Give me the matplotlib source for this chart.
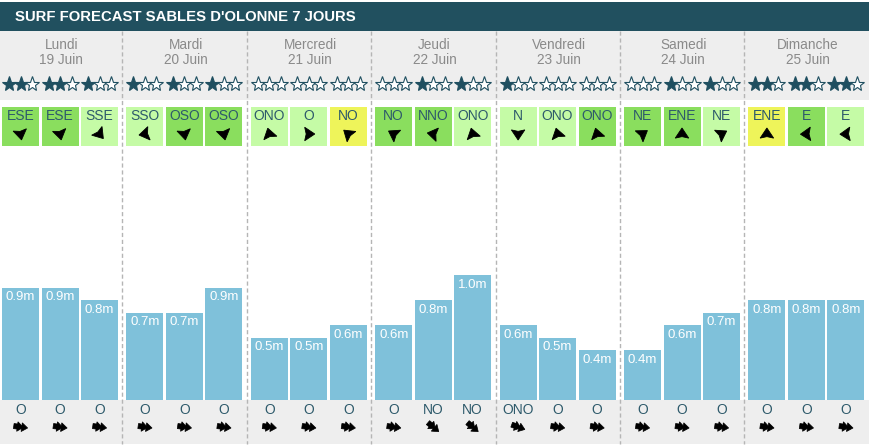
import numpy as np
import matplotlib
matplotlib.use("Agg")
import matplotlib.pyplot as plt
from matplotlib.patches import Rectangle, Polygon

plt.rcParams['font.family'] = ['Liberation Sans', 'DejaVu Sans']

# data
days = ["Lundi", "Mardi", "Mercredi", "Jeudi", "Vendredi", "Samedi", "Dimanche"]
dates = ["19 Juin", "20 Juin", "21 Juin", "22 Juin", "23 Juin", "24 Juin", "25 Juin"]
stars = [2, 2, 1, 1, 1, 1, 0, 0, 0, 0, 1, 1, 1, 0, 0, 0, 1, 1, 2, 2, 2]
wind_dir = ["ESE", "ESE", "SSE", "SSO", "OSO", "OSO", "ONO", "O", "NO",
            "NO", "NNO", "ONO", "N", "ONO", "ONO", "NE", "ENE", "NE", "ENE", "E", "E"]
wind_angle = [-80, -78, -50, 190, -80, -78, 105, 0, 140,
              150, 170, 105, -90, 105, 105, 35, 90, 30, 90, 182, 182]
wind_level = ["d", "d", "l", "l", "d", "d", "l", "l", "y",
              "d", "d", "l", "l", "l", "d", "d", "d", "l", "y", "d", "l"]
wave_h = [0.9, 0.9, 0.8, 0.7, 0.7, 0.9, 0.5, 0.5, 0.6, 0.6, 0.8, 1.0,
          0.6, 0.5, 0.4, 0.4, 0.6, 0.7, 0.8, 0.8, 0.8]
swell_dir = ["O", "O", "O", "O", "O", "O", "O", "O", "O", "O", "NO", "NO",
             "ONO", "O", "O", "O", "O", "O", "O", "O", "O"]
swell_angle = [-8, -8, -8, -8, -8, -8, -8, -8, -8, -8, -40, -40,
               -20, -8, -8, -8, -8, -8, -8, -8, -8]

W, H = 869, 446
box_col = {"d": "#8ade5e", "l": "#c5fba6", "y": "#eef45a"}
navy = "#1f4f60"
txt_col = "#2e5a6b"

fig = plt.figure(figsize=(W / 100, H / 100), dpi=100)
ax = fig.add_axes([0, 0, 1, 1])
ax.set_xlim(0, W)
ax.set_ylim(H, 0)
ax.axis("off")

col_w = 124.4
x0 = -2
slot_w = 39.5
bar_w = 37


def slot_left(i):
    return x0 + col_w * (i // 3) + 4 + slot_w * (i % 3)


def rot(pts, ang, cx, cy):
    a = np.deg2rad(ang)
    rx = pts[:, 0] * np.cos(a) - pts[:, 1] * np.sin(a)
    ry = pts[:, 0] * np.sin(a) + pts[:, 1] * np.cos(a)
    return np.c_[cx + rx, cy - ry]


def arrow(cx, cy, ang, s):
    pts = np.array([[0.8, 0], [-0.55, 0.9], [-0.35, 0], [-0.55, -0.9]]) * s
    ax.add_patch(Polygon(rot(pts, ang, cx, cy), closed=True, fc="black", ec="black",
                         lw=0.6, zorder=5))


def dbl_arrow(cx, cy, ang, s):
    # two stacked heads plus a short tail
    shapes = [
        np.array([[-0.85, 0.32], [-0.2, 0.32], [-0.2, -0.32], [-0.85, -0.32]]),
        np.array([[0.35, 0], [-0.4, 0.6], [-0.4, -0.6]]),
        np.array([[0.9, 0], [0.15, 0.55], [0.15, -0.55]]),
    ]
    for p in shapes:
        ax.add_patch(Polygon(rot(p * s, ang, cx, cy), closed=True, fc="black", ec="black",
                             lw=0.5, zorder=5))


# backgrounds
ax.add_patch(Rectangle((0, 2), W, 29, fc="#21505f", ec="none"))
ax.text(15, 17, "SURF FORECAST SABLES D'OLONNE 7 JOURS", color="white",
        fontsize=10.7, fontweight="bold", va="center", ha="left")
ax.add_patch(Rectangle((0, 31), W, 69, fc="#eeeeee", ec="none"))
ax.add_patch(Rectangle((0, 400), W, 44, fc="#eeeeee", ec="none"))

for k in range(1, 7):
    xs = x0 + col_w * k
    ax.plot([xs, xs], [31, 444], color="#b5b5b5", lw=1, ls=(0, (3, 2)), zorder=1)

for k, (d, dt) in enumerate(zip(days, dates)):
    cx = x0 + col_w * k + col_w / 2 + 1
    ax.text(cx, 45, d, color="#8a8a8a", fontsize=9.8, ha="center", va="center")
    ax.text(cx, 60, dt, color="#8a8a8a", fontsize=9.8, ha="center", va="center")

for i in range(21):
    lx = slot_left(i)
    cx = lx + bar_w / 2
    for j in range(3):
        sx = cx + (j - 1) * 11.5
        filled = j < stars[i]
        ax.plot(sx, 84, marker="*", ms=11, mfc=navy if filled else "white",
                mec=navy, mew=0.8, zorder=4)
    ax.add_patch(Rectangle((lx, 107), bar_w, 39, fc=box_col[wind_level[i]], ec="none"))
    ax.text(cx, 116, wind_dir[i], color=txt_col, fontsize=10, ha="center", va="center")
    arrow(cx, 134, wind_angle[i], 7.5)
    ax.text(cx, 410.5, swell_dir[i], color=txt_col, fontsize=10, ha="center", va="center")
    dbl_arrow(cx, 427, swell_angle[i], 8)

# wave bars in metres
bx = fig.add_axes([0, 46 / H, 1, 250 / H])
bx.set_xlim(0, W)
bx.set_ylim(0, 2.0)
bx.axis("off")
xs = [slot_left(i) for i in range(21)]
bx.bar(xs, wave_h, width=bar_w, align="edge", color="#7fc1da", zorder=2)
for xl, h in zip(xs, wave_h):
    bx.annotate(f"{h:.1f}m", (xl + bar_w / 2, h), xytext=(0, -7), textcoords="offset points",
                ha="center", va="center", color="white", fontsize=9.5)

fig.savefig("out.png", dpi=100)
